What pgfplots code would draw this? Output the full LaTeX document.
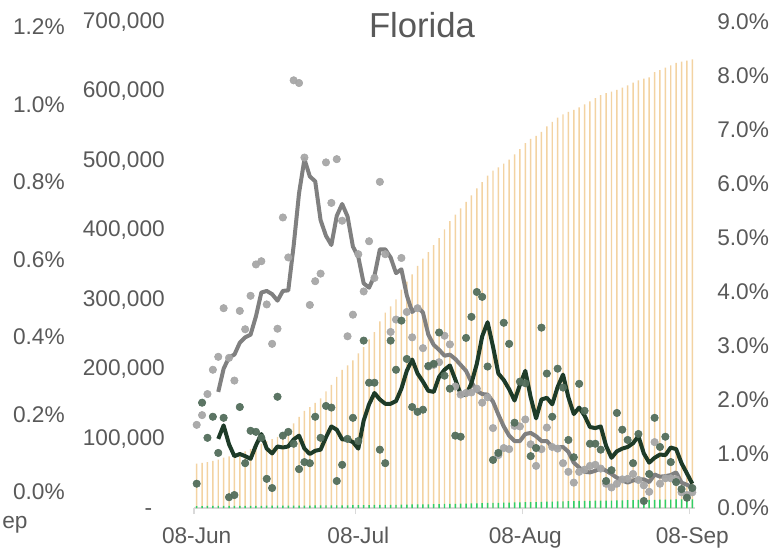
\documentclass[border=0pt]{standalone}
\usepackage{pgfplots}
\pgfplotsset{compat=1.18}
\usepackage{pgfplotstable}
\usepackage{fontspec}
\setmainfont{Liberation Sans}
\definecolor{axgray}{HTML}{595959}
\definecolor{axline}{HTML}{D9D9D9}
\definecolor{barorange}{HTML}{F3D3A2}
\definecolor{bargreen}{HTML}{2FCF68}
\definecolor{dotgray}{HTML}{A6A6A6}
\definecolor{linegray}{HTML}{808080}
\definecolor{dotgreen}{HTML}{536E5C}
\definecolor{linegreen}{HTML}{1E3B28}
\newcommand\tfont{\fontsize{17}{20}\selectfont}

% d = days since 08-Jun; cases/deaths cumulative; g,k daily growth (%); gl,kl 5-day average
\pgfplotstableread{
d cases deaths g gl k kl
0 63766 2800 1.54 nan 0.45 nan
1 64862 2855 1.72 nan 1.95 nan
2 66233 2890 2.11 nan 1.30 nan
3 67931 2940 2.56 nan 1.69 nan
4 69833 2970 2.80 2.15 1.02 1.28
5 72414 3020 3.70 2.58 1.67 1.53
6 74430 3025 2.78 2.79 0.20 1.18
7 76188 3032 2.36 2.84 0.24 0.96
8 78971 3090 3.65 3.06 1.87 1.00
9 81581 3115 3.31 3.16 0.83 0.96
10 84788 3160 3.93 3.21 1.43 0.91
11 88610 3205 4.51 3.55 1.41 1.16
12 92659 3245 4.57 3.99 1.30 1.37
13 96153 3262 3.77 4.02 0.54 1.10
14 99079 3274 3.04 3.96 0.37 1.01
15 102368 3342 3.32 3.84 2.06 1.14
16 107876 3387 5.38 4.02 1.34 1.12
17 112880 3435 4.64 4.03 1.41 1.14
18 121822 3476 7.92 4.86 1.19 1.27
19 131407 3501 7.87 5.83 0.72 1.34
20 139937 3531 6.49 6.46 0.85 1.10
21 145203 3560 3.76 6.14 0.83 1.00
22 151296 3620 4.20 6.05 1.69 1.06
23 157859 3667 4.34 5.33 1.30 1.08
24 167968 3736 6.40 5.04 1.89 1.31
25 177456 3806 5.65 4.87 1.86 1.51
26 188914 3825 6.46 5.41 0.50 1.45
27 198973 3856 5.32 5.63 0.80 1.27
28 205309 3905 3.18 5.40 1.28 1.27
29 212656 3970 3.58 4.84 1.67 1.22
30 222645 4020 4.70 4.65 1.24 1.10
31 231580 4145 4.01 4.16 3.10 1.62
32 243013 4241 4.94 4.08 2.32 1.92
33 253373 4340 4.26 4.30 2.32 2.13
34 268673 4387 6.04 4.79 1.08 2.01
35 281297 4423 4.70 4.79 0.83 1.93
36 290491 4560 3.26 4.64 3.10 1.93
37 300672 4677 3.49 4.35 2.56 1.98
38 314637 4839 4.63 4.42 3.47 2.21
39 326103 4973 3.63 3.94 2.76 2.54
40 336431 5066 3.16 3.63 1.87 2.75
41 348909 5156 3.70 3.72 1.78 2.49
42 359256 5250 2.96 3.62 1.82 2.34
43 368696 5388 2.62 3.21 2.63 2.17
44 378481 5532 2.65 3.02 2.67 2.15
45 388730 5712 2.70 2.93 3.25 2.43
46 401174 5852 3.19 2.82 2.45 2.56
47 413373 5981 3.03 2.84 2.21 2.64
48 422717 6061 2.25 2.76 1.34 2.38
49 431609 6141 2.10 2.65 1.32 2.11
50 440839 6335 2.13 2.54 3.15 2.09
51 450285 6559 2.14 2.33 3.54 2.31
52 460241 6821 2.21 2.17 4.00 2.67
53 469248 7088 1.95 2.11 3.91 3.18
54 478890 7274 2.05 2.10 2.62 3.44
55 485994 7339 1.48 1.97 0.89 2.99
56 490746 7414 0.98 1.73 1.02 2.49
57 496192 7668 1.11 1.51 3.43 2.37
58 501601 7901 1.09 1.34 3.04 2.20
59 509251 8026 1.52 1.24 1.58 1.99
60 516937 8214 1.51 1.24 2.34 2.28
61 525439 8404 1.64 1.37 2.31 2.54
62 531668 8485 1.18 1.39 0.96 2.05
63 535823 8579 0.78 1.33 1.11 1.66
64 541654 8866 1.09 1.24 3.34 2.01
65 549763 9087 1.49 1.24 2.49 2.04
66 555999 9241 1.13 1.13 1.69 1.92
67 562147 9479 1.10 1.12 2.58 2.24
68 566831 9690 0.83 1.13 2.23 2.47
69 570610 9812 0.67 1.04 1.26 2.05
70 573288 9904 0.47 0.84 0.94 1.74
71 577126 10132 0.67 0.75 2.30 1.86
72 581241 10314 0.71 0.67 1.80 1.71
73 585796 10437 0.78 0.66 1.19 1.50
74 590480 10561 0.80 0.69 1.19 1.48
75 594791 10675 0.73 0.74 1.08 1.51
76 597464 10728 0.45 0.69 0.50 1.15
77 599722 10803 0.38 0.63 0.70 0.93
78 602396 10993 0.45 0.56 1.76 1.05
79 605616 11152 0.53 0.51 1.45 1.10
80 608885 11293 0.54 0.47 1.26 1.13
81 612700 11387 0.63 0.51 0.83 1.20
82 615897 11543 0.52 0.53 1.37 1.33
83 618480 11558 0.42 0.53 0.13 1.01
84 620365 11631 0.30 0.48 0.63 0.84
85 627934 11825 1.22 0.62 1.67 0.93
86 630734 11959 0.45 0.58 1.13 0.99
87 634184 12117 0.55 0.59 1.32 0.98
88 637654 12220 0.55 0.61 0.85 1.12
89 641034 12279 0.53 0.66 0.48 1.09
90 642894 12322 0.29 0.47 0.35 0.83
91 644434 12345 0.24 0.43 0.19 0.64
92 646304 12391 0.29 0.38 0.37 0.45
}\fl

\begin{document}
\begin{tikzpicture}
\useasboundingbox (0,0) rectangle (582.75pt,412.5pt);

% stray percent axis on the far left
\begin{axis}[
  at={(48.75pt,43.5pt)}, anchor=south west, scale only axis,
  width=300pt, height=348.75pt,
  xmin=0, xmax=1, ymin=0, ymax=1.2,
  axis x line=none, axis y line*=left,
  y axis line style={draw=none}, major tick length=0pt,
  ytick={0,0.2,0.4,0.6,0.8,1.0,1.2},
  yticklabels={0.0\%,0.2\%,0.4\%,0.6\%,0.8\%,1.0\%,1.2\%},
  yticklabel style={anchor=east, inner sep=0pt, font=\tfont, text=axgray},
]
\addplot[draw=none] coordinates {(0,0)};
\end{axis}

% cumulative cases and deaths
\begin{axis}[
  at={(145.5pt,31.5pt)}, anchor=south west, scale only axis,
  width=375.75pt, height=364.5pt,
  xmin=-0.5, xmax=92.5, ymin=0, ymax=700000,
  axis x line*=bottom, axis y line*=left,
  y axis line style={draw=none},
  x axis line style={-, draw=axline, line width=1.1pt},
  xtick={0,30,61,92}, xticklabels={08-Jun,08-Jul,08-Aug,08-Sep},
  major tick length=0pt,
  extra x ticks={-0.5,29.5,60.5,91.5}, extra x tick labels={},
  extra x tick style={major tick length=4.5pt, tick align=outside,
    tick style={draw=axline, line width=1.1pt}},
  xticklabel style={anchor=north, inner sep=0pt, yshift=-14.25pt, font=\tfont, text=axgray},
  ytick={0,100000,200000,300000,400000,500000,600000,700000},
  yticklabels={{-\phantom{0}},{100,000},{200,000},{300,000},{400,000},{500,000},{600,000},{700,000}},
  yticklabel style={anchor=east, inner sep=0pt, xshift=-21.75pt, font=\tfont, text=axgray},
  scaled y ticks=false,
]
\addplot[ybar, bar width=1.1pt, bar shift=0pt, fill=barorange, draw=none]
  table[x=d, y=cases]{\fl};
\addplot[ybar, bar width=1.1pt, bar shift=0pt, fill=bargreen, draw=none]
  table[x=d, y=deaths]{\fl};
\end{axis}

% daily growth rates
\begin{axis}[
  at={(145.5pt,31.5pt)}, anchor=south west, scale only axis,
  width=375.75pt, height=364.5pt,
  xmin=-0.5, xmax=92.5, ymin=0, ymax=9,
  axis x line=none, axis y line*=right,
  y axis line style={draw=none}, major tick length=0pt,
  ytick={0,1,2,3,4,5,6,7,8,9},
  yticklabels={0.0\%,1.0\%,2.0\%,3.0\%,4.0\%,5.0\%,6.0\%,7.0\%,8.0\%,9.0\%},
  yticklabel style={anchor=west, inner sep=0pt, xshift=16.5pt, font=\tfont, text=axgray},
  clip=false,
]
\addplot[only marks, color=dotgray, mark=*, mark size=2.8pt, mark options={draw=none, fill=dotgray, fill opacity=0.95}]
  table[x=d, y=g]{\fl};
\addplot[only marks, color=dotgreen, mark=*, mark size=2.8pt, mark options={draw=none, fill=dotgreen, fill opacity=0.95}]
  table[x=d, y=k]{\fl};
\addplot[no marks, draw=linegray, line width=3pt, line join=round]
  table[x=d, y=gl]{\fl};
\addplot[no marks, draw=linegreen, line width=3pt, line join=round]
  table[x=d, y=kl]{\fl};
\end{axis}

\node[anchor=base, inner sep=0pt, text=axgray, font=\fontsize{26}{30}\selectfont] at (316.5pt,384pt) {Florida};
\node[anchor=base west, inner sep=0pt, text=axgray, font=\tfont] at (1.5pt,16.5pt) {ep};
\end{tikzpicture}
\end{document}
